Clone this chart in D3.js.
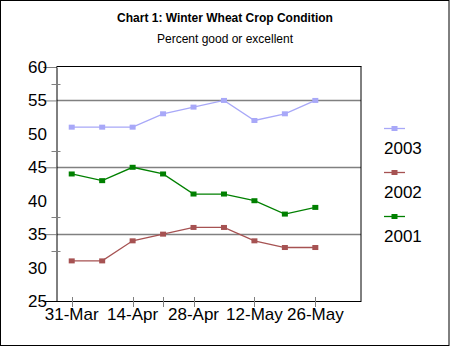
<!DOCTYPE html>
<html><head><meta charset="utf-8">
<script src="https://cdn.jsdelivr.net/npm/d3@7"></script>
<style>body{margin:0;background:#fff}svg{display:block}</style>
</head><body>
<script>
const categories = ["31-Mar","7-Apr","14-Apr","21-Apr","28-Apr","5-May","12-May","19-May","26-May",""];
const xLabels = ["31-Mar","14-Apr","28-Apr","12-May","26-May"];
const xTickCats = ["31-Mar","14-Apr","21-Apr","28-Apr","12-May","26-May"];
const values2003 = [51,51,51,53,54,55,52,53,55];
const values2002 = [31,31,34,35,36,36,34,33,33];
const values2001 = [44,43,45,44,41,41,40,38,39];
const yLabels = [25,30,35,40,45,50,55,60];
const yGrid = [35,45,55];
const yMajorTicks = [25,35,45,55,60];
const yMinorTicks = [32.5,37.5,47.5,57.5];
const seriesNames = ["2003","2002","2001"];
const seriesColors = ["#a8a8f8","#a65252","#008000"];

const W=450,H=347;
const svg=d3.select("body").append("svg").attr("width",W).attr("height",H);
svg.append("rect").attr("x",0.5).attr("y",0.5).attr("width",448.5).attr("height",345).attr("fill","#fff").attr("stroke","#000");

const L=56.5,R=361,T=67,B=301;
const x=d3.scaleBand().domain(categories).range([L,R]);
const y=d3.scaleLinear().domain([25,60]).range([B,T]);
const cx=c=>x(c)+x.bandwidth()/2;

svg.append("text").attr("x",225).attr("y",22).attr("text-anchor","middle")
  .attr("font-family","Arial, Liberation Sans, sans-serif").attr("font-weight","bold").attr("font-size",12)
  .text("Chart 1: Winter Wheat Crop Condition");
svg.append("text").attr("x",225).attr("y",43).attr("text-anchor","middle")
  .attr("font-family","Arial, Liberation Sans, sans-serif").attr("font-size",12)
  .text("Percent good or excellent");

// gridlines
svg.selectAll(".grid").data(yGrid).enter().append("line")
  .attr("x1",L).attr("x2",R).attr("y1",d=>Math.round(y(d))+0.5).attr("y2",d=>Math.round(y(d))+0.5)
  .attr("stroke","#808080").attr("stroke-width",1.3);

// plot box top & right
svg.append("line").attr("x1",L).attr("x2",R+0.5).attr("y1",T-0.5).attr("y2",T-0.5).attr("stroke","#000");
svg.append("line").attr("x1",R).attr("x2",R).attr("y1",T-0.5).attr("y2",B).attr("stroke","#000");

// y axis
const yAxis=d3.axisLeft(y).tickValues(yMajorTicks).tickSize(13).tickFormat("");
const ga=svg.append("g").attr("transform",`translate(${L},0)`).call(yAxis);
ga.select(".domain").attr("stroke","#000");
ga.selectAll(".tick line").attr("stroke","#808080").attr("transform","translate(0,0)");
ga.selectAll(".tick line").attr("x1",0).attr("x2",-12);
svg.selectAll(".ymin").data(yMinorTicks).enter().append("line")
  .attr("x1",L-5).attr("x2",L+4).attr("y1",d=>Math.round(y(d))+0.5).attr("y2",d=>Math.round(y(d))+0.5)
  .attr("stroke","#808080");
svg.selectAll(".ylab").data(yLabels).enter().append("text")
  .attr("x",47).attr("y",d=>y(d)+6).attr("text-anchor","end")
  .attr("font-family","Arial, Liberation Sans, sans-serif").attr("font-size",17).text(d=>d);

// x axis
svg.append("line").attr("x1",L-12).attr("x2",R+0.5).attr("y1",B+0.5).attr("y2",B+0.5).attr("stroke","#000");
svg.selectAll(".xt").data(xTickCats).enter().append("line")
  .attr("x1",d=>Math.round(cx(d))+0.5).attr("x2",d=>Math.round(cx(d))+0.5)
  .attr("y1",B-4).attr("y2",B+6).attr("stroke","#808080");
svg.selectAll(".xlab").data(xLabels).enter().append("text")
  .attr("x",d=>cx(d)).attr("y",320).attr("text-anchor","middle")
  .attr("font-family","Arial, Liberation Sans, sans-serif").attr("font-size",17).text(d=>d);

// series
const allVals=[values2003,values2002,values2001];
const line=d3.line().x((d,i)=>cx(categories[i])).y(d=>y(d));
allVals.forEach((vals,k)=>{
  svg.append("path").attr("d",line(vals)).attr("fill","none").attr("stroke",seriesColors[k]).attr("stroke-width",1.3);
  svg.selectAll(".m"+k).data(vals).enter().append("rect")
    .attr("x",(d,i)=>cx(categories[i])-3).attr("y",d=>y(d)-2.5).attr("width",6).attr("height",5)
    .attr("fill",seriesColors[k]);
});

// legend
const legY=[128.5,172.5,216.5];
seriesNames.forEach((n,k)=>{
  svg.append("line").attr("x1",384).attr("x2",405).attr("y1",legY[k]).attr("y2",legY[k]).attr("stroke",seriesColors[k]).attr("stroke-width",1.3);
  svg.append("rect").attr("x",391.5).attr("y",legY[k]-2.5).attr("width",6).attr("height",5).attr("fill",seriesColors[k]);
  svg.append("text").attr("x",384).attr("y",legY[k]+25.5)
    .attr("font-family","Arial, Liberation Sans, sans-serif").attr("font-size",17).text(n);
});
</script>
</body></html>
